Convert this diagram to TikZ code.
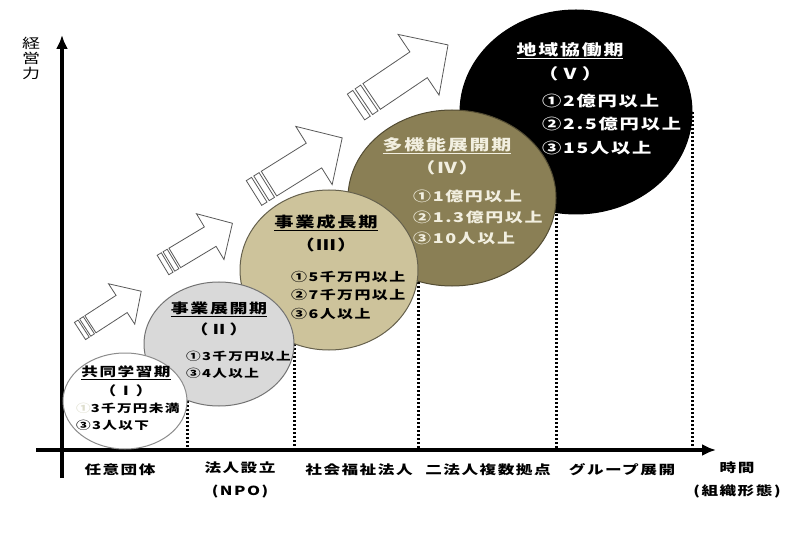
\documentclass[tikz,border=0pt]{standalone}
\usepackage{fontspec}
\setmainfont{Noto Sans CJK JP}[FakeStretch=1.33,LetterSpace=12]
\usepackage{tikz}
\usetikzlibrary{arrows.meta}
\usetikzlibrary{shapes.geometric}
\usetikzlibrary{backgrounds}
\definecolor{mgray}{RGB}{217,217,217}
\definecolor{mkhaki}{RGB}{205,195,155}
\definecolor{molive}{RGB}{138,127,85}
\definecolor{mpale}{RGB}{242,239,224}
\definecolor{mfaint}{RGB}{222,222,205}

\begin{document}
\begin{tikzpicture}[x=1pt, y=-1pt,
    phase/.style={ellipse, draw, line width=1pt, inner sep=0pt},
    axis/.style={line width=4pt, -{Latex[length=14pt,width=12pt]}},
    drop/.style={line width=3pt, dash pattern=on 2pt off 2pt},
    arrowline/.style={draw=black!65, fill=white, line width=0.8pt},
    title/.style={align=center, inner sep=0pt, font=\bfseries},
    items/.style={align=left, anchor=west, inner sep=0pt, font=\bfseries},
    stage/.style={inner sep=0pt, font=\bfseries\fontsize{12.5}{23}\selectfont, align=center},
    grow/.pic={
      \draw[arrowline] (0.17,-0.14) -- (0.68,-0.14) -- (0.68,-0.33) -- (1,0)
        -- (0.68,0.33) -- (0.68,0.14) -- (0.17,0.14) -- cycle;
      \draw[arrowline] (0.085,-0.14) rectangle (0.145,0.14);
      \draw[arrowline] (0,-0.14) rectangle (0.06,0.14);
    }]
      \useasboundingbox (0,0) rectangle (800,537);

      % axes
      \coordinate (o) at (62,450);
      \coordinate (ytop) at (62,35);
      \coordinate (ybot) at (62,478);
      \coordinate (xbeg) at (36,450);
      \coordinate (xend) at (716,450);
      \draw[axis] (ybot) -- (ytop);
      \draw[axis] (xbeg) -- (xend);
      \node[inner sep=0pt, align=center, font=\fontsize{13.5}{15}\selectfont] (ylab) at (31,58) {経\\営\\力};

      % phases
      \node[phase, fill=black, minimum width=232pt, minimum height=204pt] (p5) at (576,112) {};
      \node[phase, fill=molive, draw=molive!60!black, minimum width=208pt, minimum height=176pt] (p4) at (452,198) {};
      \node[phase, fill=mkhaki, draw=mkhaki!50!black, minimum width=178pt, minimum height=160pt] (p3) at (329,270) {};
      \node[phase, fill=mgray, draw=black!55, minimum width=150pt, minimum height=124pt] (p2) at (219,344) {};
      \node[phase, fill=white, draw=black!45, minimum width=124pt, minimum height=96pt] (p1) at (125,401) {};

      \begin{scope}[on background layer]
        \draw[drop] (p1.east) -- (p1.east |- o);
        \draw[drop] (p2.east) -- (p2.east |- o);
        \draw[drop] (p3.east) -- (p3.east |- o);
        \draw[drop] (p4.east) -- (p4.east |- o);
        \draw[drop] (p5.east) -- (p5.east |- o);

        % growth arrows
        \pic[rotate=33, scale=73] at (80,331) {grow};
        \pic[rotate=31, scale=81] at (163,265) {grow};
        \pic[rotate=32, scale=104] at (254,193) {grow};
        \pic[rotate=34, scale=111] at (356,107) {grow};
      \end{scope}

      % texts
      \node[title, text=white, font=\bfseries\fontsize{15}{24}\selectfont] (t5) at (570,62) {\underline{地域協働期}\\（Ⅴ）};
      \node[items, text=white, font=\bfseries\fontsize{14.5}{23.5}\selectfont] (v5) at (542,124) {①2億円以上\\②2.5億円以上\\③15人以上};
      \node[title, text=mpale, font=\bfseries\fontsize{15}{23}\selectfont] (t4) at (447,156) {\underline{多機能展開期}\\（Ⅳ）};
      \node[items, text=mpale, font=\bfseries\fontsize{13.5}{21}\selectfont] (v4) at (413,217) {①1億円以上\\②1.3億円以上\\③10人以上};
      \node[title, font=\bfseries\fontsize{14.5}{23}\selectfont] (t3) at (326,233) {\underline{事業成長期}\\（Ⅲ）};
      \node[items, font=\bfseries\fontsize{12}{18.5}\selectfont] (v3) at (291,295) {①5千万円以上\\②7千万円以上\\③6人以上};
      \node[title, font=\bfseries\fontsize{13.5}{21}\selectfont] (t2) at (219,319) {\underline{事業展開期}\\（Ⅱ）};
      \node[items, font=\bfseries\fontsize{11}{17}\selectfont] (v2) at (186,365) {①3千万円以上\\③4人以上};
      \node[title, font=\bfseries\fontsize{12.5}{19}\selectfont] (t1) at (126,381) {\underline{共同学習期}\\（Ⅰ）};
      \node[items, font=\bfseries\fontsize{11}{17}\selectfont] (v1) at (76,417) {{\color{mfaint}①}3千万円未満\\③3人以下};

      % stages
      \node[stage] (s1) at (120,470) {任意団体};
      \node[stage, anchor=north] (s2) at (240,462) {法人設立\\(NPO)};
      \node[stage] (s3) at (359,470) {社会福祉法人};
      \node[stage] (s4) at (488,470) {二法人複数拠点};
      \node[stage] (s5) at (622,470) {グループ展開};
      \node[stage, anchor=north] (s6) at (737,462) {時間\\(組織形態)};
    \end{tikzpicture}
\end{document}
